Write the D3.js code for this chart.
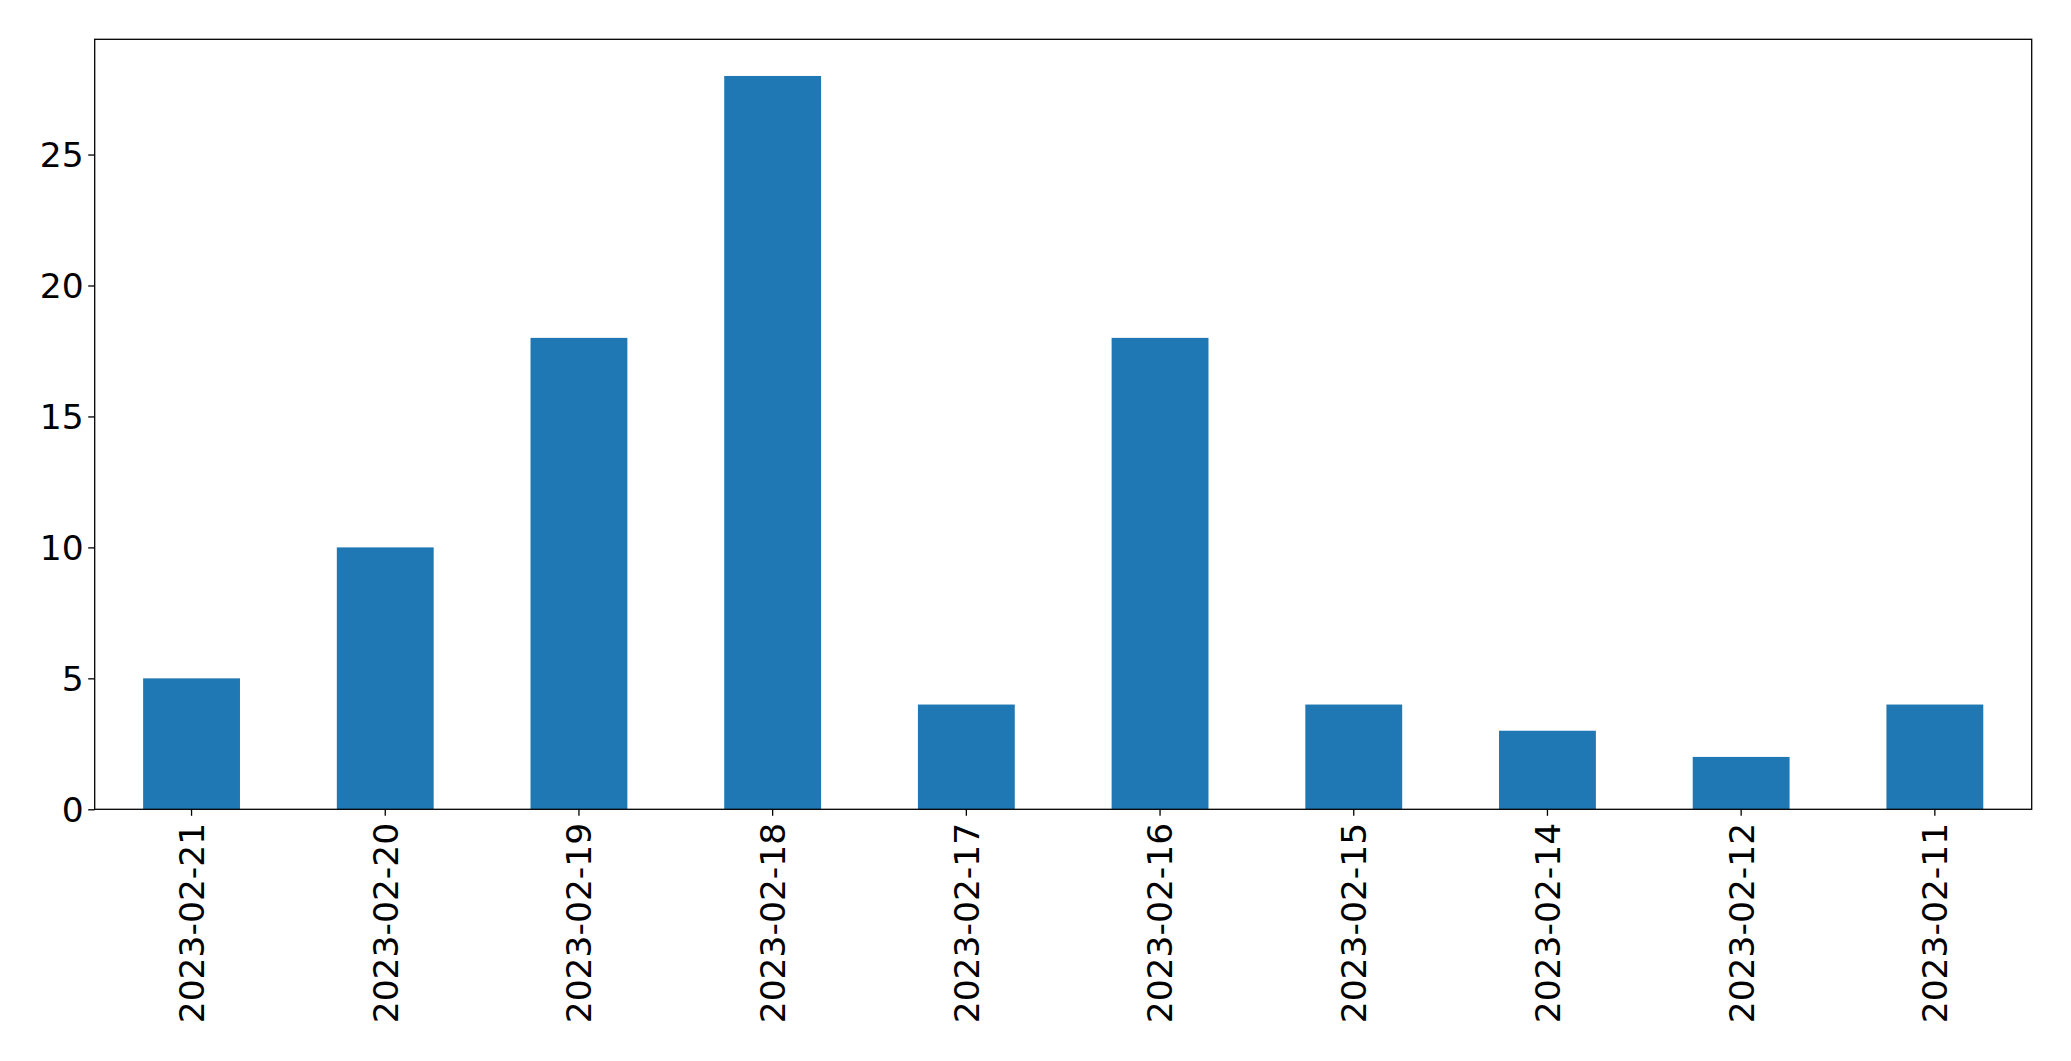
<!DOCTYPE html>
<html>
<head>
<meta charset="utf-8">
<script src="https://cdn.jsdelivr.net/npm/d3@7"></script>
<style>
  html, body { margin: 0; padding: 0; background: #fff; }
  svg { display: block; }
  text { font-family: "DejaVu Sans", sans-serif; fill: #000; }
</style>
</head>
<body>
<script>
const categories = ["2023-02-21", "2023-02-20", "2023-02-19", "2023-02-18", "2023-02-17",
                    "2023-02-16", "2023-02-15", "2023-02-14", "2023-02-12", "2023-02-11"];
const values = [5, 10, 18, 28, 4, 18, 4, 3, 2, 4];
const yTicks = [0, 5, 10, 15, 20, 25];

const W = 2071, H = 1061;
const m = { left: 94.7, right: W - 2031.7, top: 39.3, bottom: H - 809.3 };
const fontPx = 34.5;

const svg = d3.select("body").append("svg").attr("width", W).attr("height", H);

const x = d3.scaleBand().domain(categories)
  .range([m.left, W - m.right]).paddingInner(0.5).paddingOuter(0.25);
const y = d3.scaleLinear().domain([0, d3.max(values) * 1.05]).range([H - m.bottom, m.top]);

svg.append("g").selectAll("rect").data(values).join("rect")
  .attr("x", (d, i) => x(categories[i]))
  .attr("y", d => y(d))
  .attr("width", x.bandwidth())
  .attr("height", d => y(0) - y(d))
  .attr("fill", "#1f77b4");

// frame
svg.append("rect")
  .attr("x", m.left).attr("y", m.top)
  .attr("width", W - m.right - m.left).attr("height", H - m.bottom - m.top)
  .attr("fill", "none").attr("stroke", "#000").attr("stroke-width", 1.3);

// y axis
const yAxis = svg.append("g").attr("transform", `translate(${m.left},0)`)
  .call(d3.axisLeft(y).tickValues(yTicks).tickSize(6.5).tickPadding(4.5).tickFormat(d3.format("d")));
yAxis.select(".domain").remove();
yAxis.selectAll(".tick line").attr("stroke", "#000").attr("stroke-width", 1.3);
yAxis.selectAll(".tick text").style("font-size", fontPx + "px").attr("dy", "0.36em");

// x axis
const xAxis = svg.append("g").attr("transform", `translate(0,${H - m.bottom})`)
  .call(d3.axisBottom(x).tickSize(6.5).tickPadding(0));
xAxis.select(".domain").remove();
xAxis.selectAll(".tick line").attr("stroke", "#000").attr("stroke-width", 1.3);
xAxis.selectAll(".tick text")
  .style("font-size", fontPx + "px")
  .attr("text-anchor", "end")
  .attr("transform", "rotate(-90)")
  .attr("x", -13.5)
  .attr("y", 0)
  .attr("dy", "0.36em");
</script>
</body>
</html>
